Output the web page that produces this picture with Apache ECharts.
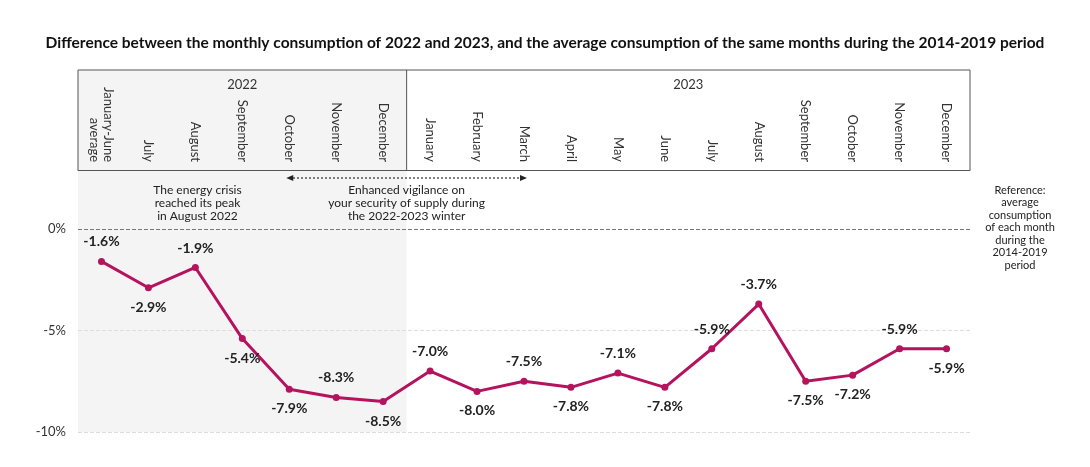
<!DOCTYPE html>
<html><head><meta charset="utf-8">
<script src="https://cdn.jsdelivr.net/npm/echarts@6/dist/echarts.min.js"></script>
<style>body{margin:0}#c{width:1090px;height:467px}</style></head>
<body><div id="c"></div>
<script>
var months = ['January-June\naverage','July','August','September','October','November','December',
  'January','February','March','April','May','June','July','August','September','October','November','December'];
var values = [-1.6,-2.9,-1.9,-5.4,-7.9,-8.3,-8.5,-7.0,-8.0,-7.5,-7.8,-7.1,-7.8,-5.9,-3.7,-7.5,-7.2,-5.9,-5.9];
var labelPos = ['top','bottom','top','bottom','bottom','top','bottom','top','bottom','top','bottom','top','bottom','top','top','bottom','bottom','top','bottom'];
var years = ['2022','2023'];
var ticks = [0,-5,-10];

var F = 'Lato, "Noto Sans", sans-serif';
var red = '#b5135e';
var chart = echarts.init(document.getElementById('c'));
chart.setOption({
  title: {text:'Difference between the monthly consumption of 2022 and 2023, and the average consumption of the same months during the 2014-2019 period',
    left:'center', top:30, textStyle:{fontFamily:F, fontSize:15.5, fontWeight:'bold', color:'#111'}},
  grid: {left:78, right:120, top:170, bottom:35},
  xAxis: {type:'category', data:months, position:'top',
    axisLine:{onZero:false, lineStyle:{color:'#555'}}, axisTick:{show:false},
    axisLabel:{rotate:90, margin:8, fontFamily:F, fontSize:13, color:'#333', lineHeight:14, interval:0}},
  yAxis: {type:'value', min:-10, max:2.9, interval:5, splitLine:{show:false},
    axisLine:{show:false}, axisTick:{show:false},
    axisLabel:{margin:12, fontFamily:F, fontSize:13, color:'#333',
      formatter:function(v){return ticks.indexOf(v)>=0 ? v+'%' : '';}}},
  series: [{type:'line', data:values.map(function(v,i){return {value:v, label:{position:labelPos[i]}};}),
    symbol:'circle', symbolSize:7, lineStyle:{color:red, width:3}, itemStyle:{color:red},
    label:{show:true, distance:9, formatter:function(p){return p.value.toFixed(1)+'%';},
      fontFamily:F, fontSize:14, fontWeight:'bold', color:'#222'},
    markLine:{silent:true, symbol:'none', label:{show:false},
      data:ticks.map(function(t){return {yAxis:t, lineStyle:{type:'dashed', color:t===0?'#777':'#ddd', width:1}};})},
    z:5}]
});

function px(i, v){ return chart.convertToPixel({xAxisIndex:0,yAxisIndex:0},[i,v]); }
var p0 = px(0,0), p6 = px(6,0), p7 = px(7,0), pl = px(18,-10);
var step = p7[0]-p6[0];
var bx0 = p0[0]-step/2, bdiv = p6[0]+step/2, bx1 = pl[0]+step/2, by0 = 70, axisY = 170, by1 = pl[1];
var pOct = px(4,0), pMar = px(9,0);
chart.setOption({graphic:[
  {type:'rect', shape:{x:bx0,y:by0,width:bdiv-bx0,height:by1-by0}, style:{fill:'#f4f4f4'}, z:-10},
  {type:'polyline', shape:{points:[[bx0,axisY],[bx0,by0],[bx1,by0],[bx1,axisY]]}, style:{stroke:'#555',fill:null,lineWidth:1}},
  {type:'line', shape:{x1:bdiv,y1:by0,x2:bdiv,y2:axisY}, style:{stroke:'#555',lineWidth:1}},
  {type:'text', x:(bx0+bdiv)/2, y:by0+8, style:{text:years[0], textAlign:'center', font:'13px '+F, fill:'#333'}},
  {type:'text', x:(bdiv+bx1)/2, y:by0+8, style:{text:years[1], textAlign:'center', font:'13px '+F, fill:'#333'}},
  {type:'line', shape:{x1:pOct[0]+4,y1:178,x2:pMar[0]-4,y2:178}, style:{stroke:'#222',lineWidth:1.5,lineDash:[1.5,2.5]}},
  {type:'polygon', shape:{points:[[pOct[0]-3,178],[pOct[0]+4,175],[pOct[0]+4,181]]}, style:{fill:'#222'}},
  {type:'polygon', shape:{points:[[pMar[0]+3,178],[pMar[0]-4,175],[pMar[0]-4,181]]}, style:{fill:'#222'}},
  {type:'text', x:p0[0]+96, y:184, style:{text:'The energy crisis\nreached its peak\nin August 2022', textAlign:'center', font:'12px '+F, lineHeight:13, fill:'#222'}},
  {type:'text', x:(pOct[0]+pMar[0])/2, y:184, style:{text:'Enhanced vigilance on\nyour security of supply during\nthe 2022-2023 winter', textAlign:'center', font:'12px '+F, lineHeight:13, fill:'#222'}},
  {type:'text', x:1020, y:184, style:{text:'Reference:\naverage\nconsumption\nof each month\nduring the\n2014-2019\nperiod', textAlign:'center', font:'11px '+F, lineHeight:12.5, fill:'#222'}}
]});
</script></body></html>
